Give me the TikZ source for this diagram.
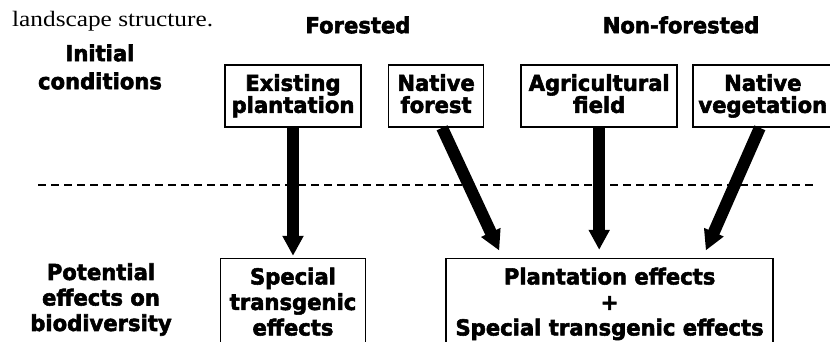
\documentclass[tikz,border=0pt]{standalone}
\usepackage{fontspec}
\usepackage{graphicx}
\newfontfamily\heavyfont{DejaVu Sans}[FakeStretch=0.96, BoldFeatures={FakeBold=2.5}]
\newfontfamily\captionfont{Liberation Serif}
\usetikzlibrary{positioning}
\usetikzlibrary{arrows.meta}
\tikzset{
  box/.style={draw, line width=1.6pt, inner sep=0pt, align=center, minimum height=62pt, text depth=5pt,
    font=\heavyfont\bfseries\fontsize{22}{22}\selectfont},
  effbox/.style={box, minimum height=91pt, font=\heavyfont\bfseries\fontsize{22}{25.5}\selectfont},
  heading/.style={align=center, inner sep=0pt, font=\heavyfont\bfseries\fontsize{22}{25.5}\selectfont},
  bigarrow/.style={-{Triangle[width=20pt,length=20pt]}, line width=12pt},
}

\begin{document}
\begin{tikzpicture}[x=1pt,y=-1pt]
        \useasboundingbox (0,0) rectangle (830,341);
        \clip (0,0) rectangle (830,341);
        % nodes %
        \node[anchor=base west, inner sep=0pt, font=\captionfont\fontsize{22}{24}\selectfont] (caption) at (12,26) {\scalebox{1.15}[1]{landscape structure.}};
        \node[heading] (forested) at (358,25) {Forested};
        \node[heading] (nonforested) at (681,25) {Non-forested};
        \node[heading, font=\heavyfont\bfseries\fontsize{22}{28}\selectfont] (initial) at (100,67) {Initial\\conditions};
        \node[box, minimum width=136pt] (ep) at (293,96) {Existing\\plantation};
        \node[box, right=26pt of ep, minimum width=95pt] (nf) {Native\\forest};
        \node[box, right=36pt of nf, minimum width=156pt] (af) {Agricultural\\field};
        \node[box, right=14pt of af, minimum width=140pt] (nv) {Native\\vegetation};
        \node[effbox, below=130pt of ep, minimum width=145pt] (st) {Special\\transgenic\\effects};
        \node[effbox, right=79pt of st, minimum width=327pt] (pe) {Plantation effects\\+\\Special transgenic effects};
        \node[heading] (potential) at (101,299.5) {Potential\\effects on\\biodiversity};
        % separator %
        \coordinate (sepl) at (38,185);
        \coordinate (sepr) at (815,185);
        \draw[dashed, dash pattern=on 8pt off 5pt, line width=1.3pt] (sepl) -- (sepr);
        % edges %
        \draw[bigarrow, shorten >=2pt] (ep.south) -- (ep.south |- st.north);
        \draw[bigarrow, shorten >=8pt] ([xshift=6pt]nf.south) -- ([xshift=-107pt]pe.north);
        \draw[bigarrow, shorten >=8pt] (af.south) -- (af.south |- pe.north);
        \draw[bigarrow, shorten >=8pt] ([xshift=-3pt]nv.south) -- ([xshift=93pt]pe.north);
\end{tikzpicture}
\end{document}
